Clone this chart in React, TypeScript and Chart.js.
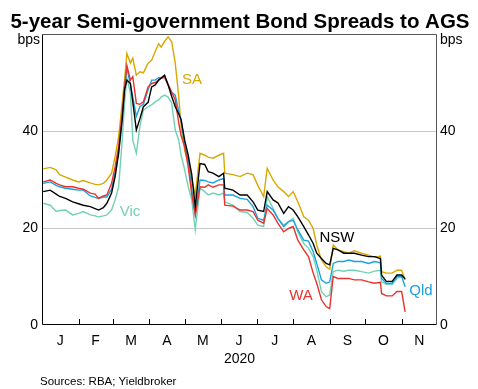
import React, { useEffect, useRef } from "react";
import { Chart, registerables } from "chart.js";

Chart.register(...registerables);

// Day of year 2020 (0 = 1 Jan)
const days = [1,7,12,15,20,26,31,35,41,45,48,52,55,59,62,65,68,70,72,75,77,80,83,86,90,93,96,99,101,104,107,110,113,116,118,121,124,127,130,134,138,141,145,150,154,155,162,168,174,179,183,188,191,196,200,205,209,213,217,222,226,230,233,237,241,244,247,251,256,260,265,271,277,282,287,288,292,297,301,305,308];

const saValues = [
  32.2, 32.5, 32.0, 31.0, 30.5, 29.9, 29.5, 29.8, 29.3, 29.0,
  28.9, 29.2, 29.9, 31.3, 34.7, 38.8, 45.7, 50.5, 56.0, 54.0,
  55.0, 51.5, 52.2, 52.0, 54.0, 54.6, 56.4, 58.0, 57.3, 58.5,
  59.4, 58.4, 54.0, 47.0, 40.9, 36.0, 33.5, 30.0, 26.8, 35.4,
  35.0, 34.6, 34.4, 35.0, 35.4, 31.3, 31.0, 30.6, 31.3, 31.0,
  28.8, 26.5, 32.3, 29.9, 28.5, 27.5, 26.5, 27.5, 25.4, 22.3,
  21.6, 19.9, 16.5, 13.4, 12.0, 11.5, 16.5, 15.5, 15.1, 14.8,
  15.3, 14.8, 14.4, 14.0, 14.2, 11.0, 10.7, 10.7, 11.3, 11.3,
  9.3,
];
const nswValues = [
  27.5, 27.8, 27.0, 26.5, 26.1, 25.4, 25.0, 24.7, 24.4, 24.0,
  23.7, 24.2, 25.1, 27.2, 30.6, 35.4, 42.3, 48.5, 50.5, 49.8,
  46.0, 40.2, 42.5, 45.0, 45.9, 49.1, 49.5, 50.5, 50.9, 51.5,
  49.5, 47.1, 45.0, 43.5, 42.3, 38.1, 35.0, 31.0, 24.4, 33.3,
  33.1, 31.6, 31.3, 30.6, 31.3, 28.2, 27.8, 26.8, 26.8, 25.4,
  23.7, 23.4, 27.5, 25.8, 25.2, 23.0, 24.4, 23.7, 22.3, 20.3,
  18.6, 16.8, 14.8, 13.7, 12.7, 12.4, 15.8, 15.5, 14.8, 14.8,
  14.8, 14.4, 14.1, 14.1, 13.7, 10.3, 9.0, 9.0, 10.3, 10.3,
  9.5,
];
const qldValues = [
  29.2, 29.5, 28.8, 28.5, 28.2, 28.0, 27.8, 27.8, 26.6, 26.3,
  26.1, 26.4, 26.4, 28.0, 31.5, 36.0, 43.0, 49.0, 53.0, 49.5,
  47.0, 43.0, 45.0, 45.5, 48.5, 50.5, 50.5, 51.0, 51.0, 51.2,
  49.5, 48.0, 47.4, 44.0, 42.3, 37.0, 34.0, 28.0, 22.7, 29.9,
  29.8, 29.5, 29.3, 29.9, 30.2, 26.8, 26.8, 26.1, 25.9, 24.4,
  22.0, 21.6, 24.7, 23.7, 22.0, 20.3, 21.3, 21.6, 19.6, 17.5,
  17.3, 15.1, 12.7, 9.3, 8.6, 8.9, 12.7, 13.1, 13.1, 13.4,
  13.1, 13.1, 12.7, 13.1, 12.8, 9.6, 8.6, 8.6, 10.0, 10.0,
  7.9,
];
const vicValues = [
  25.1, 24.7, 23.4, 23.6, 23.7, 22.7, 23.0, 23.4, 22.7, 22.5,
  22.3, 22.5, 22.7, 23.7, 25.8, 28.5, 38.1, 45.7, 50.9, 47.8,
  38.1, 35.4, 40.9, 44.3, 45.0, 45.4, 46.0, 46.4, 47.0, 47.4,
  47.0, 45.7, 40.2, 38.1, 35.0, 32.0, 28.5, 25.8, 19.6, 28.2,
  27.5, 26.8, 27.2, 26.8, 27.2, 25.4, 24.7, 23.4, 23.2, 22.0,
  20.6, 20.3, 26.5, 24.0, 22.0, 20.6, 21.3, 22.0, 19.2, 16.8,
  15.8, 14.1, 11.3, 6.9, 5.8, 6.2, 11.0, 11.3, 11.1, 11.3,
  11.3, 11.0, 10.7, 11.1, 11.3, 8.9, 8.4, 8.4, 9.6, 10.0,
  9.8,
];
const waValues = [
  29.5, 29.9, 29.2, 28.9, 28.5, 28.5, 28.2, 28.0, 27.2, 27.0,
  26.1, 26.6, 26.8, 29.2, 32.6, 36.8, 43.7, 49.1, 53.5, 50.5,
  51.2, 45.7, 45.5, 46.0, 49.1, 49.8, 50.0, 50.5, 50.9, 51.0,
  49.5, 48.0, 46.4, 41.6, 39.0, 36.8, 32.6, 27.0, 22.7, 28.5,
  28.4, 28.9, 28.4, 28.9, 28.9, 24.7, 24.5, 23.7, 23.7, 23.4,
  21.6, 21.0, 24.0, 22.7, 21.0, 19.2, 19.9, 20.3, 17.5, 15.5,
  14.1, 10.7, 8.6, 5.2, 3.8, 3.4, 10.0, 9.6, 9.6, 9.6,
  9.3, 9.3, 8.9, 8.6, 8.8, 6.5, 6.0, 6.0, 6.9, 6.9,
  2.7,
];

const monthLabels = ["J", "F", "M", "A", "M", "J", "J", "A", "S", "O", "N"];
const monthStarts = [0, 31, 60, 91, 121, 152, 182, 213, 244, 274, 305, 335];
const yTicks = [0, 20, 40, 60];
const yearLabel = "2020";
const titleText = "5-year Semi-government Bond Spreads to AGS";
const sourceText = "Sources: RBA; Yieldbroker";
const unitText = "bps";

const COLORS = {
  SA: "#d8a800",
  NSW: "#000000",
  Qld: "#1ba1dd",
  Vic: "#72d1b4",
  WA: "#e8322e",
};

const FONT = "'Liberation Sans', Arial, Helvetica, sans-serif";

const toPoints = (vals: number[]) => vals.map((v, i) => ({ x: days[i], y: v }));

const seriesLabels = [
  { text: "SA", color: COLORS.SA, x: 192, y: 80 },
  { text: "Vic", color: COLORS.Vic, x: 130, y: 212 },
  { text: "NSW", color: COLORS.NSW, x: 337, y: 238 },
  { text: "WA", color: COLORS.WA, x: 301, y: 296 },
  { text: "Qld", color: COLORS.Qld, x: 421, y: 291 },
];

const decorPlugin = {
  id: "decor",
  afterDraw(chart: any) {
    const { ctx, chartArea } = chart;
    const xs = chart.scales.x;
    const { left, right, top, bottom } = chartArea;
    ctx.save();
    // frame
    ctx.strokeStyle = "#555555";
    ctx.lineWidth = 1;
    ctx.beginPath();
    ctx.moveTo(left + 0.5, top + 0.5);
    ctx.lineTo(right - 0.5, top + 0.5);
    ctx.lineTo(right - 0.5, bottom - 0.5);
    ctx.stroke();
    ctx.strokeStyle = "#000000";
    ctx.beginPath();
    ctx.moveTo(left + 0.5, top + 0.5);
    ctx.lineTo(left + 0.5, bottom - 0.5);
    ctx.lineTo(right - 0.5, bottom - 0.5);
    ctx.stroke();
    // inner month tick marks
    ctx.beginPath();
    for (let i = 1; i < monthStarts.length - 1; i++) {
      const px = Math.round(xs.getPixelForValue(monthStarts[i])) + 0.5;
      ctx.moveTo(px, bottom);
      ctx.lineTo(px, bottom - 6);
    }
    ctx.stroke();
    // month labels
    ctx.fillStyle = "#000";
    ctx.font = `14px ${FONT}`;
    ctx.textAlign = "center";
    ctx.textBaseline = "alphabetic";
    for (let i = 0; i < monthLabels.length; i++) {
      const mid = (monthStarts[i] + monthStarts[i + 1]) / 2;
      ctx.fillText(monthLabels[i], xs.getPixelForValue(mid), 345);
    }
    ctx.fillText(yearLabel, (left + right) / 2, 362.5);
    // units
    ctx.textAlign = "right";
    ctx.fillText(unitText, left - 2, 44);
    ctx.textAlign = "left";
    ctx.fillText(unitText, right + 3, 44);
    // title
    ctx.font = `bold 20.5px ${FONT}`;
    ctx.textAlign = "center";
    ctx.fillText(titleText, 240, 28);
    // source
    ctx.font = `11.5px ${FONT}`;
    ctx.textAlign = "left";
    ctx.fillText(sourceText, 40, 385);
    // series labels
    ctx.font = `15px ${FONT}`;
    ctx.textAlign = "center";
    ctx.textBaseline = "middle";
    for (const l of seriesLabels) {
      ctx.fillStyle = l.color;
      ctx.fillText(l.text, l.x, l.y);
    }
    ctx.restore();
  },
};

const yAxisCommon = (position: "left" | "right", width: number, showGrid: boolean) => ({
  type: "linear" as const,
  position,
  min: 0,
  max: 60,
  afterBuildTicks: (s: any) => {
    s.ticks = yTicks.map((v) => ({ value: v }));
  },
  afterFit: (s: any) => {
    s.width = width;
  },
  ticks: {
    callback: (v: any) => (v === 60 ? "" : String(v)),
    color: "#000",
    font: { family: FONT, size: 14 },
    padding: position === "left" ? 4 : 3,
  },
  grid: {
    display: showGrid,
    drawTicks: false,
    color: (c: any) => (c.tick && (c.tick.value === 20 || c.tick.value === 40) ? "#c8c8c8" : "rgba(0,0,0,0)"),
    lineWidth: 1,
  },
  border: { display: false },
});

export default function App() {
  const ref = useRef<HTMLCanvasElement | null>(null);
  useEffect(() => {
    if (!ref.current) return;
    const mk = (label: string, vals: number[], color: string) => ({
      label,
      data: toPoints(vals),
      borderColor: color,
      backgroundColor: color,
      borderWidth: 1.4,
      pointRadius: 0,
      tension: 0,
      fill: false,
    });
    const chart = new Chart(ref.current, {
      type: "line",
      data: {
        datasets: [
          mk("NSW", nswValues, COLORS.NSW),
          mk("WA", waValues, COLORS.WA),
          mk("Qld", qldValues, COLORS.Qld),
          mk("Vic", vicValues, COLORS.Vic),
          mk("SA", saValues, COLORS.SA),
        ],
      },
      options: {
        animation: false,
        responsive: false,
        devicePixelRatio: 1,
        layout: { padding: { left: 8, right: 8, top: 34, bottom: 24 } },
        plugins: {
          legend: { display: false },
          tooltip: { enabled: false },
          title: { display: false },
        },
        scales: {
          x: {
            type: "linear",
            min: 0,
            max: 335,
            ticks: { display: false },
            grid: { display: false, drawTicks: false },
            border: { display: false },
            afterFit: (s: any) => {
              s.height = 40;
            },
          },
          y: yAxisCommon("left", 34, true),
          y2: yAxisCommon("right", 33, false),
        },
      } as any,
      plugins: [decorPlugin],
    });
    return () => chart.destroy();
  }, []);
  return (
    <div style={{ position: "absolute", left: 0, top: 0, width: 478, height: 389, background: "#fff" }}>
      <canvas ref={ref} width={478} height={389} style={{ display: "block" }} />
    </div>
  );
}
